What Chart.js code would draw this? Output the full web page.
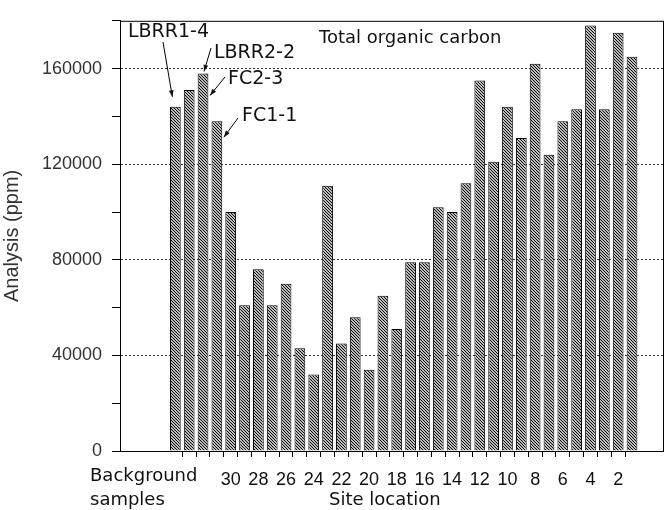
<!DOCTYPE html>
<html>
<head>
<meta charset="utf-8">
<script src="https://cdn.jsdelivr.net/npm/chart.js@4/dist/chart.umd.min.js"></script>
<style>
  html, body { margin: 0; padding: 0; background: #fff; }
</style>
</head>
<body>
<canvas id="chart" width="668" height="510"></canvas>
<script>
// background samples, left of the site bars
const bgSamples = ["LBRR1-4", "LBRR2-2", "FC2-3", "FC1-1"];
const bgValues = [144000, 151000, 158000, 138000];

// site locations, 30 down to 1
const siteNumbers = [30, 29, 28, 27, 26, 25, 24, 23, 22, 21, 20, 19, 18, 17, 16,
  15, 14, 13, 12, 11, 10, 9, 8, 7, 6, 5, 4, 3, 2, 1];
const siteValues = [100000, 61000, 76000, 61000, 70000, 43000, 32000, 111000, 45000, 56000,
  34000, 65000, 51000, 79000, 79000, 102000, 100000, 112000, 155000, 121000,
  144000, 131000, 162000, 124000, 138000, 143000, 178000, 143000, 175000, 165000];
const siteTickLabels = [30, 28, 26, 24, 22, 20, 18, 16, 14, 12, 10, 8, 6, 4, 2];

const yTicks = [0, 20000, 40000, 60000, 80000, 100000, 120000, 140000, 160000, 180000];
const yLabelled = [0, 40000, 80000, 120000, 160000];

const allValues = bgValues.concat(siteValues);
const points = allValues.map((v, i) => ({ x: i + 1, y: v }));
const sitePos = n => bgSamples.length + siteNumbers.indexOf(n) + 1;

// diagonal hatch fill
function hatch() {
  const c = document.createElement("canvas");
  c.width = 3; c.height = 3;
  const g = c.getContext("2d");
  g.fillStyle = "#fff";
  g.fillRect(0, 0, 3, 3);
  g.strokeStyle = "#000";
  g.lineWidth = 1.05;
  g.beginPath();
  g.moveTo(-1, -1); g.lineTo(4, 4);
  g.moveTo(-1, 2); g.lineTo(1, 4);
  g.moveTo(2, -1); g.lineTo(4, 1);
  g.stroke();
  return g.createPattern(c, "repeat");
}

function arrow(ctx, x1, y1, x2, y2) {
  ctx.beginPath();
  ctx.moveTo(x1, y1);
  ctx.lineTo(x2, y2);
  ctx.stroke();
  const a = Math.atan2(y2 - y1, x2 - x1);
  ctx.beginPath();
  ctx.moveTo(x2, y2);
  ctx.lineTo(x2 - 7 * Math.cos(a - 0.35), y2 - 7 * Math.sin(a - 0.35));
  ctx.lineTo(x2 - 7 * Math.cos(a + 0.35), y2 - 7 * Math.sin(a + 0.35));
  ctx.closePath();
  ctx.fill();
}

const notes = {
  id: "notes",
  afterDraw(chart) {
    const { ctx, chartArea: a, scales } = chart;
    const x = scales.x, y = scales.y;
    ctx.save();
    ctx.strokeStyle = "#000";
    ctx.lineWidth = 1;
    ctx.strokeRect(a.left + 0.5, a.top + 0.5, a.right - a.left, a.bottom - a.top);

    ctx.fillStyle = "#111";
    ctx.font = "18px 'DejaVu Sans'";
    ctx.textBaseline = "alphabetic";
    ctx.fillText("Total organic carbon", 319, 43);

    ctx.font = "19px 'DejaVu Sans'";
    ctx.fillText(bgSamples[0], 128, 37);
    ctx.fillText(bgSamples[1], 214, 58);
    ctx.fillText(bgSamples[2], 228, 84);
    ctx.fillText(bgSamples[3], 242, 121);

    ctx.lineWidth = 1;
    arrow(ctx, 163, 42, x.getPixelForValue(1) - 3, y.getPixelForValue(bgValues[0]) - 10);
    arrow(ctx, 211, 48, x.getPixelForValue(3) + 1, y.getPixelForValue(bgValues[2]) - 2);
    arrow(ctx, 225, 77, x.getPixelForValue(3) + 7, y.getPixelForValue(bgValues[2]) + 22);
    arrow(ctx, 238, 118, x.getPixelForValue(4) + 7, y.getPixelForValue(bgValues[3]) + 16);

    ctx.font = "18px 'DejaVu Sans'";
    ctx.fillText("Background", 90, 481);
    ctx.fillText("samples", 90, 505);
    ctx.fillText("Site location", 329, 505);
    ctx.restore();
  }
};

new Chart(document.getElementById("chart"), {
  type: "bar",
  data: {
    datasets: [{
      data: points,
      backgroundColor: hatch(),
      borderColor: "#000",
      borderWidth: 1,
      barPercentage: 0.8,
      categoryPercentage: 0.97
    }]
  },
  options: {
    responsive: false,
    animation: false,
    devicePixelRatio: 1,
    layout: { padding: { top: 10, right: 5, left: 0, bottom: 0 } },
    plugins: { legend: { display: false }, tooltip: { enabled: false } },
    scales: {
      x: {
        type: "linear",
        offset: false,
        min: -3,
        max: 36.24,
        position: "bottom",
        weight: 2,
        grid: { display: false },
        border: { display: false },
        afterBuildTicks: s => { s.ticks = siteTickLabels.map(n => ({ value: sitePos(n) })); },
        afterFit: s => { s.height = 53; },
        ticks: {
          autoSkip: false,
          maxRotation: 0,
          padding: 4,
          color: "#111",
          font: { family: "'Liberation Sans'", size: 18 },
          callback: v => siteTickLabels.find(n => sitePos(n) === v)
        }
      },
      xMarks: {
        type: "linear",
        offset: false,
        min: -3,
        max: 36.24,
        position: "bottom",
        weight: 1,
        border: { display: false },
        grid: { drawOnChartArea: false, tickLength: 6, color: "#000", offset: false },
        ticks: { display: false },
        afterBuildTicks: s => {
          s.ticks = allValues.slice(1).map((v, i) => ({ value: i + 1.5 }));
        },
        afterFit: s => { s.height = 6; }
      },
      y: {
        min: 0,
        max: 180000,
        afterBuildTicks: s => { s.ticks = yTicks.map(v => ({ value: v })); },
        afterFit: s => { s.width = 120; },
        border: { display: true, color: "#000", dash: [2, 2] },
        grid: {
          color: c => (c.tick && yLabelled.includes(c.tick.value) && c.tick.value > 0) ? "#333" : "rgba(0,0,0,0)",
          tickColor: "#000",
          tickLength: 8
        },
        ticks: {
          padding: 10,
          color: "#333",
          font: { family: "'Liberation Sans'", size: 18 },
          callback: v => yLabelled.includes(v) ? String(v) : ""
        },
        title: {
          display: true,
          text: "Analysis (ppm)",
          color: "#333",
          padding: { top: 0, bottom: 2 },
          font: { family: "'Liberation Sans'", size: 20 }
        }
      }
    }
  },
  plugins: [notes]
});
</script>
</body>
</html>
